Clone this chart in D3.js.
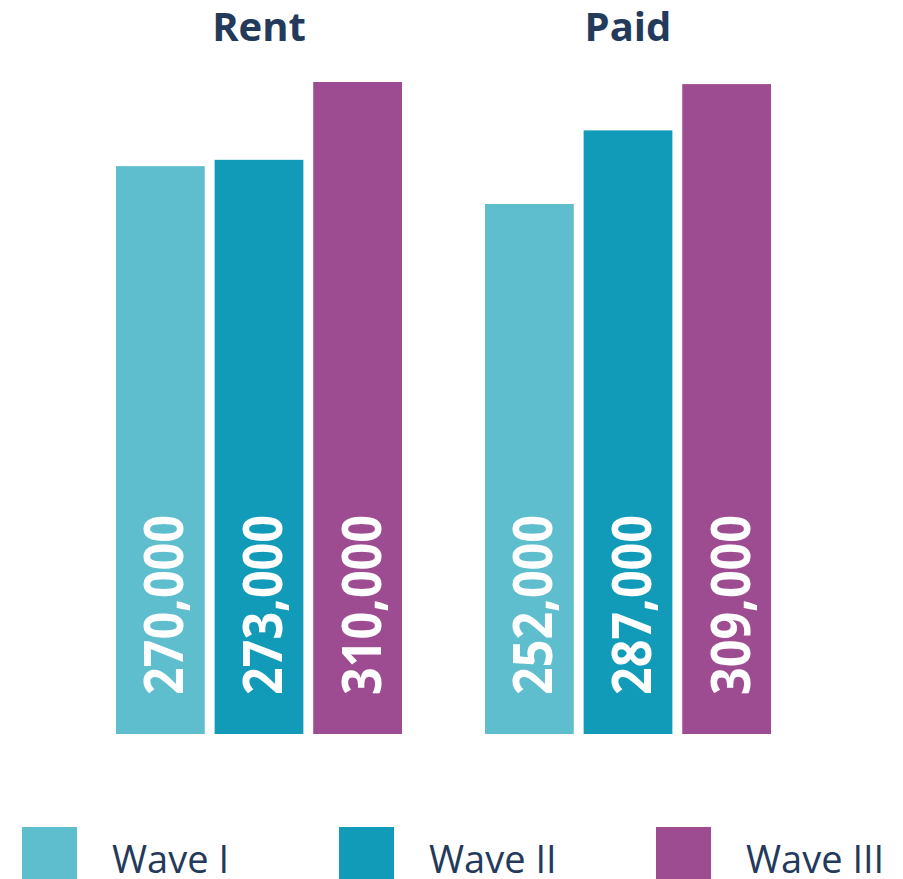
<!DOCTYPE html>
<html lang="en">
<head>
	<meta charset="UTF-8">
	<title>Rent vs Paid by wave</title>
	<script src="https://cdnjs.cloudflare.com/ajax/libs/d3/7.8.5/d3.min.js"></script>
	<style>
		html, body { margin: 0; padding: 0; background: #fff; }
		svg { display: block; font-family: 'Open Sans', sans-serif; }
	</style>
</head>
<body>
	<svg id="viz"></svg>
	<script>
		const groups = ['Rent', 'Paid'];
		const waves = ['Wave I', 'Wave II', 'Wave III'];
		const rentValues = [270000, 273000, 310000];
		const paidValues = [252000, 287000, 309000];
		const colors = ['#5FBECE', '#129BB8', '#9E4C92'];

		const width = 903;
		const height = 879;
		const base = 734;
		const titleColor = '#243A5B';

		const data = [];
		groups.forEach((g, gi) => {
			const vals = gi === 0 ? rentValues : paidValues;
			waves.forEach((w, wi) => data.push({ group: g, wave: w, value: vals[wi] }));
		});

		const svg = d3.select('#viz')
			.attr('width', width)
			.attr('height', height);

		const x0 = d3.scaleBand().domain(groups).range([116, 771]).paddingInner(0.225);
		const x1 = d3.scaleBand().domain(waves).range([0, x0.bandwidth()]).paddingInner(0.1);
		const y = d3.scaleLinear().domain([0, 310000]).range([base, 82]);
		const color = d3.scaleOrdinal(waves, colors);
		const fmt = d3.format(',');

		// group titles
		svg.selectAll('.title')
			.data(groups)
			.enter()
			.append('text')
			.attr('class', 'title')
			.attr('x', d => x0(d) + x0.bandwidth() / 2)
			.attr('y', 41)
			.attr('text-anchor', 'middle')
			.attr('font-size', 40)
			.attr('font-weight', 700)
			.attr('fill', titleColor)
			.text(d => d);

		// bars
		svg.selectAll('rect.bar')
			.data(data)
			.enter()
			.append('rect')
			.attr('class', 'bar')
			.attr('x', d => x0(d.group) + x1(d.wave))
			.attr('y', d => y(d.value))
			.attr('width', x1.bandwidth())
			.attr('height', d => base - y(d.value))
			.attr('fill', d => color(d.wave));

		// rotated value labels
		svg.selectAll('text.val')
			.data(data)
			.enter()
			.append('text')
			.attr('class', 'val')
			.attr('transform', d => {
				const cx = x0(d.group) + x1(d.wave) + x1.bandwidth() / 2 + 2;
				return `translate(${cx},${base - 39}) rotate(-90)`;
			})
			.attr('dominant-baseline', 'central')
			.attr('font-size', 54)
			.attr('font-weight', 700)
			.attr('fill', '#fff')
			.attr('textLength', 180)
			.attr('lengthAdjust', 'spacingAndGlyphs')
			.text(d => fmt(d.value));

		// legend
		const lx = d3.scaleBand().domain(waves).range([22, 973]);
		const legend = svg.selectAll('.legend')
			.data(waves)
			.enter()
			.append('g')
			.attr('class', 'legend')
			.attr('transform', d => `translate(${lx(d)},827)`);
		legend.append('rect')
			.attr('width', 55)
			.attr('height', 55)
			.attr('fill', d => color(d));
		legend.append('text')
			.attr('x', 90)
			.attr('y', 46)
			.attr('font-size', 38)
			.attr('fill', titleColor)
			.text(d => d);
	</script>
</body>
</html>
